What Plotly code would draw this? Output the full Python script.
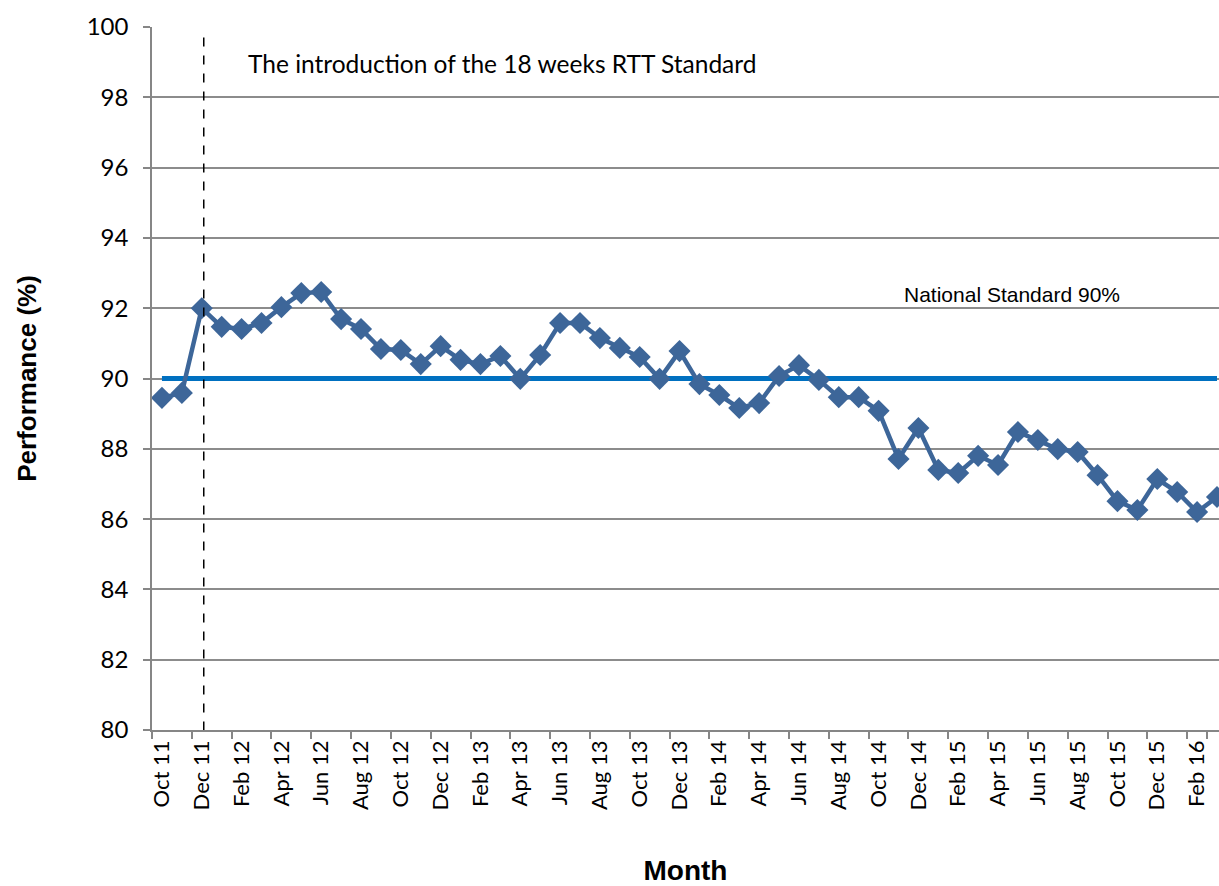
import plotly.graph_objects as go

months = ["Oct 11", "Nov 11", "Dec 11", "Jan 12", "Feb 12", "Mar 12", "Apr 12", "May 12", "Jun 12",
          "Jul 12", "Aug 12", "Sep 12", "Oct 12", "Nov 12", "Dec 12", "Jan 13", "Feb 13", "Mar 13",
          "Apr 13", "May 13", "Jun 13", "Jul 13", "Aug 13", "Sep 13", "Oct 13", "Nov 13", "Dec 13",
          "Jan 14", "Feb 14", "Mar 14", "Apr 14", "May 14", "Jun 14", "Jul 14", "Aug 14", "Sep 14",
          "Oct 14", "Nov 14", "Dec 14", "Jan 15", "Feb 15", "Mar 15", "Apr 15", "May 15", "Jun 15",
          "Jul 15", "Aug 15", "Sep 15", "Oct 15", "Nov 15", "Dec 15", "Jan 16", "Feb 16", "Mar 16"]

performance = [89.45, 89.59, 92.0, 91.47, 91.41, 91.58, 92.03, 92.43, 92.46,
               91.69, 91.41, 90.84, 90.81, 90.41, 90.92, 90.53, 90.41, 90.64,
               89.99, 90.67, 91.58, 91.58, 91.15, 90.87, 90.61, 89.99, 90.78,
               89.84, 89.53, 89.16, 89.30, 90.07, 90.38, 89.96, 89.47, 89.47,
               89.08, 87.71, 88.59, 87.40, 87.31, 87.80, 87.54, 88.48, 88.25,
               87.99, 87.91, 87.25, 86.51, 86.26, 87.14, 86.77, 86.20, 86.63]

national_standard = [90.0] * len(months)

tick_labels = months[::2]

fig = go.Figure()

fig.add_trace(go.Scatter(
    x=months, y=national_standard, mode="lines",
    line=dict(color="#0070C0", width=5), hoverinfo="skip", showlegend=False,
))

fig.add_trace(go.Scatter(
    x=months, y=performance, mode="lines+markers",
    line=dict(color="#3D6699", width=4.5),
    marker=dict(symbol="diamond", size=17, color="#3D6699"),
    showlegend=False,
))

# Dashed vertical marker for the introduction of the standard
fig.add_shape(type="line", xref="x", yref="y", x0=2.1, x1=2.1, y0=99.7, y1=79.8,
              line=dict(color="black", width=1.5, dash="dash"))

fig.add_annotation(text="The introduction of the 18 weeks RTT Standard",
                   xref="x", yref="y", x=4.22, y=98.95, xanchor="left", yanchor="middle",
                   showarrow=False, font=dict(family="Lato", size=24.5, color="black"))

fig.add_annotation(text="National Standard 90%",
                   xref="x", yref="y", x=37.2, y=92.4, xanchor="left", yanchor="middle",
                   showarrow=False, font=dict(family="Liberation Sans, Arial", size=21, color="black"))

fig.update_layout(
    width=1219, height=886,
    margin=dict(l=152, r=0, t=27, b=156),
    paper_bgcolor="white", plot_bgcolor="white",
    font=dict(family="Lato", color="black"),
    xaxis=dict(
        type="category", categoryorder="array", categoryarray=months,
        range=[-0.5, 53.1],
        tickmode="array", tickvals=tick_labels, ticktext=tick_labels,
        tickson="boundaries", ticks="outside", ticklen=7, tickcolor="#868686", tickwidth=1.5,
        tickangle=-90, tickfont=dict(family="Lato", size=22, color="black"),
        showgrid=False, showline=True, linecolor="#868686", linewidth=1.5,
        title=dict(text="<b>Month</b>", font=dict(family="Liberation Sans, Arial", size=28, color="black"),
                   standoff=56),
        zeroline=False,
    ),
    yaxis=dict(
        range=[80, 100], tickmode="array", tickvals=list(range(80, 101, 2)),
        ticks="outside", ticklen=7, tickcolor="#868686", tickwidth=1.5,
        ticklabelstandoff=10,
        tickfont=dict(family="Lato", size=24, color="black"),
        showgrid=True, gridcolor="#8C8C8C", gridwidth=1.5,
        showline=True, linecolor="#868686", linewidth=1.5,
        title=dict(text="<b>Performance (%)</b>", font=dict(family="Liberation Sans, Arial", size=26, color="black"),
                   standoff=43),
        zeroline=False,
    ),
)

fig.write_html("out.html", config={"displayModeBar": False},
               post_script="document.body.style.margin='0';document.body.style.overflow='hidden';")
